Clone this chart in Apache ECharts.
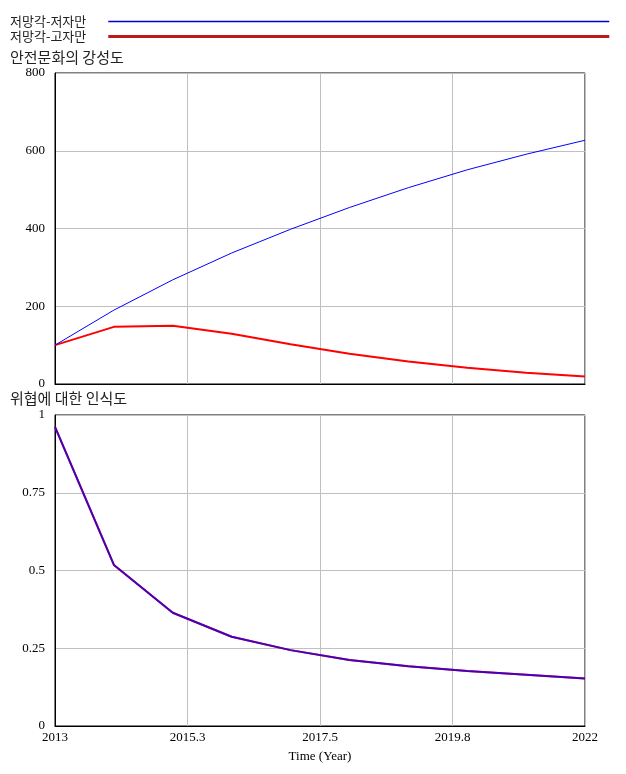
<!DOCTYPE html>
<html><head><meta charset="utf-8">
<script src="https://cdn.jsdelivr.net/npm/echarts@6/dist/echarts.min.js"></script>
<style>html,body{margin:0;padding:0;background:#fff}#c{width:626px;height:774px}</style>
</head><body><div id="c"></div>
<script>
const years = [2013,2014,2015,2016,2017,2018,2019,2020,2021,2022];
const seriesNames = ['저망각-저자만','저망각-고자만'];
const strengthLow = [100,190,268,337,398,454,505,551,591,627];
const strengthHigh = [100,147,150,129,102,78,58,42,29,19];
const awareness = [0.962,0.518,0.364,0.287,0.244,0.212,0.192,0.177,0.165,0.153];
const topTitle = '안전문화의 강성도';
const bottomTitle = '위협에 대한 인식도';
const xAxisTitle = 'Time (Year)';

const base = 2013;
const pts = arr => arr.map((v,i)=>[years[i]-base, v]);
const serif = 'Liberation Serif, Times New Roman, serif';
const kr = 'Noto Sans CJK KR, sans-serif';
const fmtX = v => { const y = base + v; return Number.isInteger(y) ? String(y) : y.toFixed(1); };

const xCommon = {type:'value', min:0, max:9, interval:2.25,
  axisLine:{show:true, lineStyle:{color:'#000'}}, axisTick:{show:false},
  splitLine:{show:true, lineStyle:{color:'#c0c0c0', width:1}}};
const yCommon = {type:'value', axisLine:{show:true, lineStyle:{color:'#000'}}, axisTick:{show:false},
  splitLine:{show:true, lineStyle:{color:'#c0c0c0', width:1}},
  axisLabel:{color:'#000', fontFamily:serif, fontSize:13, margin:10}};

const chart = echarts.init(document.getElementById('c'));
chart.setOption({
  animation:false,
  title:[
    {text:topTitle, left:5, top:45, textStyle:{fontFamily:kr, fontSize:15, fontWeight:'normal', color:'#222'}},
    {text:bottomTitle, left:5, top:386, textStyle:{fontFamily:kr, fontSize:15, fontWeight:'normal', color:'#222'}}
  ],
  legend:{orient:'vertical', left:10, top:15, padding:0, align:'right', itemWidth:501, itemHeight:15, itemGap:2,
    selectedMode:false, itemStyle:{opacity:0},
    data:[
      {name:seriesNames[0], lineStyle:{color:'#0000cc', width:1.5}},
      {name:seriesNames[1], lineStyle:{color:'#c01818', width:3}}
    ],
    textStyle:{fontFamily:kr, fontSize:13, color:'#222', padding:[0,17,0,0]}},
  grid:[
    {left:55, right:41, top:73, height:311, show:true, borderColor:'#000', borderWidth:1},
    {left:55, right:41, top:415, height:311, show:true, borderColor:'#000', borderWidth:1}
  ],
  xAxis:[
    Object.assign({gridIndex:0, axisLabel:{show:false}}, xCommon),
    Object.assign({gridIndex:1, name:xAxisTitle, nameLocation:'middle', nameGap:24,
      nameTextStyle:{fontFamily:serif, fontSize:13, color:'#000'},
      axisLabel:{color:'#000', fontFamily:serif, fontSize:13, margin:5, formatter:fmtX}}, xCommon)
  ],
  yAxis:[
    Object.assign({gridIndex:0, min:0, max:800, interval:200}, yCommon),
    Object.assign({gridIndex:1, min:0, max:1, interval:0.25}, yCommon, {axisLabel:Object.assign({}, yCommon.axisLabel, {formatter:v=>String(v)})})
  ],
  series:[
    {name:seriesNames[0], type:'line', xAxisIndex:0, yAxisIndex:0, data:pts(strengthLow), symbol:'none',
      lineStyle:{color:'#0000ff', width:1}, itemStyle:{color:'#0000ff'}, z:3},
    {name:seriesNames[1], type:'line', xAxisIndex:0, yAxisIndex:0, data:pts(strengthHigh), symbol:'none',
      lineStyle:{color:'#ff0000', width:2}, itemStyle:{color:'#e00000'}, z:2},
    {name:seriesNames[1]+' ', type:'line', xAxisIndex:1, yAxisIndex:1, data:pts(awareness), symbol:'none',
      lineStyle:{color:'#ff0000', width:2}, z:2},
    {name:seriesNames[0]+' ', type:'line', xAxisIndex:1, yAxisIndex:1, data:pts(awareness), symbol:'none',
      lineStyle:{color:'#0000ff', width:2, opacity:0.72}, z:3}
  ]
});
</script></body></html>
